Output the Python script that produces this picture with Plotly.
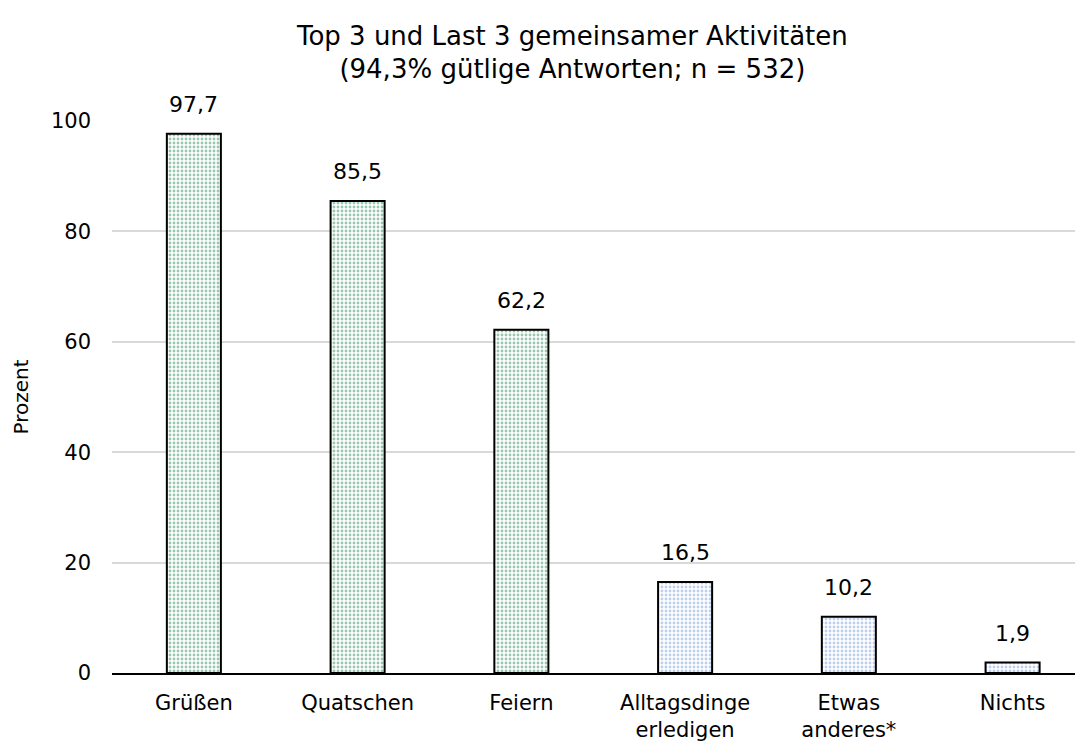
import plotly.graph_objects as go

categories = ["Grüßen", "Quatschen", "Feiern", "Alltagsdinge<br>erledigen", "Etwas<br>anderes*", "Nichts"]
values = [97.7, 85.5, 62.2, 16.5, 10.2, 1.9]
groups = ["top", "top", "top", "last", "last", "last"]
y_ticks = [0, 20, 40, 60, 80, 100]

color_map = {"top": "#2f8f5f", "last": "#7a9fdc"}
fg = [color_map[g] for g in groups]
labels = [f"{v:.1f}".replace(".", ",") for v in values]

font = "DejaVu Sans"

fig = go.Figure(go.Bar(
    x=categories, y=values,
    cliponaxis=False,
    width=0.33,
    marker=dict(
        color="white",
        line=dict(color="black", width=2),
        pattern=dict(shape=".", fgcolor=fg, bgcolor="white", size=4, solidity=0.4, fillmode="overlay"),
    ),
))

for c, v, t in zip(categories, values, labels):
    fig.add_annotation(x=c, y=v, text=t, showarrow=False, yanchor="bottom", yshift=15,
                       font=dict(size=22, family=font, color="black"))

fig.update_layout(
    width=1075, height=745,
    paper_bgcolor="white", plot_bgcolor="white",
    margin=dict(l=104, r=0, t=113, b=80),
    font=dict(family=font, color="black", size=20),
    title=dict(
        text="Top 3 und Last 3 gemeinsamer Aktivitäten<br>(94,3% gütlige Antworten; n = 532)",
        x=0.525, xanchor="center", y=0.951, yanchor="top",
        font=dict(size=26, family=font, color="black"),
    ),
    showlegend=False,
)
fig.update_yaxes(
    range=[0, 100], tickvals=y_ticks, showgrid=True, gridcolor="#d9d9d9", gridwidth=1.5,
    zeroline=False, showline=False, ticks="", ticklabelstandoff=20,
    title=dict(text="Prozent", font=dict(size=20, family=font), standoff=16),
    tickfont=dict(size=21, family=font),
)
fig.update_xaxes(
    range=[-0.5, 5.43],
    showline=True, linecolor="black", linewidth=1.5, ticks="", ticklabelstandoff=10,
    tickfont=dict(size=21, family=font),
)

fig.write_html("out.html")
